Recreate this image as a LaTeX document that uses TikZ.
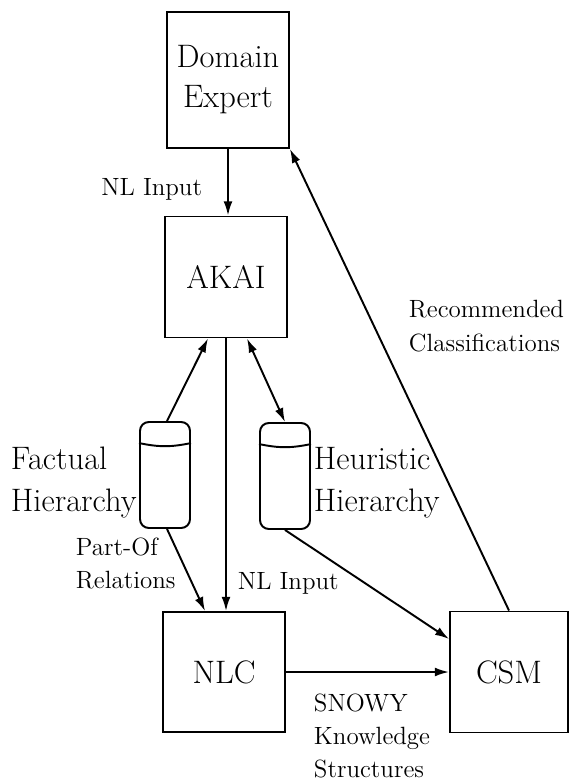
\documentclass[tikz,border=0pt]{standalone}
\usepackage{tikz}
\usetikzlibrary{positioning}
\usetikzlibrary{calc}
\usetikzlibrary{arrows.meta}

\begin{document}
\begin{tikzpicture}[x=0.02cm, y=-0.02cm, >={Latex[length=8pt,width=5pt]},
    line width=1.1pt,
    box/.style={draw, minimum width=2.44cm, minimum height=2.42cm, inner sep=0pt,
        font=\fontsize{18.5}{22.8}\selectfont, align=center},
    store/.style={draw, rounded corners=5pt, minimum width=1cm, minimum height=2.12cm,
        inner sep=0pt},
    big/.style={font=\fontsize{18.5}{23.9}\selectfont, align=left, inner sep=0pt},
    small/.style={font=\fontsize{14.2}{18.8}\selectfont, align=left, inner sep=0pt}]

\useasboundingbox (0,0) rectangle (572,781);

% --- boxes ---
\node[box, minimum height=2.72cm] (expert) at (228,80) {Domain\\Expert};
\node[box] (akai) at (226,277) {AKAI};
\node[box, minimum height=2.4cm] (nlc) at (224,672) {NLC};
\node[box, minimum width=2.36cm] (csm) at (509,672) {CSM};

% --- hierarchies ---
\node[store] (fact) at (165,475) {};
\node[store] (heur) at (285,476) {};
\foreach \c in {fact,heur}
    \draw ([yshift=-0.44cm]\c.north west) to[bend right=12] ([yshift=-0.44cm]\c.north east);

% --- connectors ---
\draw[->] (expert.south) -- (expert.south |- akai.north);
\draw[->] ([xshift=0.04cm]fact.north) -- ([xshift=-0.36cm]akai.south);
\draw[<->] ([xshift=0.42cm]akai.south) -- (heur.north);
\draw[->] (akai.south) -- (akai.south |- nlc.north);
\draw[->] ([xshift=0.04cm]fact.south) -- ([xshift=-0.38cm]nlc.north);
\draw[->] (heur.south) -- ([yshift=0.66cm]csm.west);
\draw[->] (nlc) -- (csm);
\draw[->] (csm.north) -- (expert.south east);

% --- labels ---
\node[small, anchor=base east] (nlinput) at (203,195) {NL Input};
\node[big, anchor=west] (factlbl) at (10,483) {Factual\\Hierarchy};
\node[big, anchor=west] (heurlbl) at (313,483) {Heuristic\\Hierarchy};
\node[small, anchor=north west] (partof) at (75,536.7) {Part-Of\\Relations};
\node[small, anchor=base west] (nlinput2) at (237,589) {NL Input};
\node[small, anchor=north west] (recomm) at (408,299.7) {Recommended\\Classifications};
\node[small, anchor=north west] (snowy) at (313,693) {SNOWY\\Knowledge\\Structures};
\end{tikzpicture}
\end{document}
